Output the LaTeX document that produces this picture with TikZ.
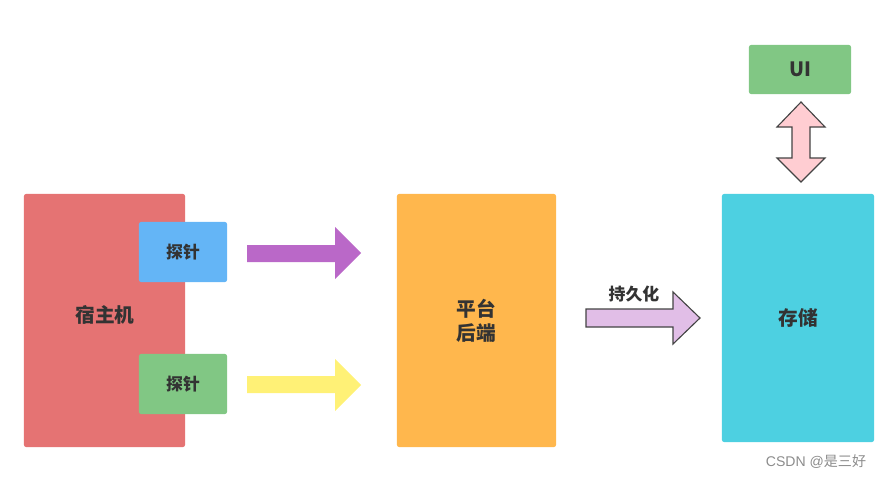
\documentclass[tikz,border=0pt]{standalone}
\usepackage{fontspec}
\newfontfamily\cjk{Noto Sans CJK SC}
\newfontfamily\markfont{Liberation Sans}
\usepackage{tikz}
\usetikzlibrary{positioning,calc}

\definecolor{hostred}{HTML}{E57373}
\definecolor{probeblue}{HTML}{64B5F6}
\definecolor{probegreen}{HTML}{81C784}
\definecolor{flowpurple}{HTML}{BA68C8}
\definecolor{flowyellow}{HTML}{FFF176}
\definecolor{backorange}{HTML}{FFB74D}
\definecolor{storecyan}{HTML}{4DD0E1}
\definecolor{persistlilac}{HTML}{E1BEE7}
\definecolor{uipink}{HTML}{FFCDD2}
\definecolor{txtgray}{HTML}{333333}
\definecolor{edgegray}{HTML}{444444}
\definecolor{markgray}{HTML}{8C8C8C}

\tikzset{
  box/.style={rounded corners=1.5pt, inner sep=0pt, text=txtgray,
    font=\cjk\bfseries\fontsize{14pt}{17pt}\selectfont, align=center},
  smallbox/.style={box, font=\cjk\bfseries\fontsize{12pt}{14pt}\selectfont},
  outlined/.style={draw=edgegray, line width=0.8pt, line join=miter}
}

\begin{document}
\begin{tikzpicture}[x=0.025cm,y=-0.025cm]
\useasboundingbox (0,0) rectangle (881,479);

%boxes
\node[box, fill=hostred, minimum width=4.025cm, minimum height=6.325cm] (host) at (104.5,320.5) {};
\node[box] (hostlabel) at (105,315) {宿主机};
\node[smallbox, fill=probeblue, minimum width=2.2cm, minimum height=1.5cm] (probeA) at (183,252) {探针};
\node[smallbox, fill=probegreen, minimum width=2.2cm, minimum height=1.5cm] (probeB) at (183,384) {探针};
\node[box, fill=backorange, minimum width=3.975cm, minimum height=6.325cm] (backend) at (476.5,320.5) {平台\\后端};
\node[box, fill=storecyan, minimum width=3.8cm, minimum height=6.2cm] (storage) at (798,318) {存储};
\node[box, fill=probegreen, minimum width=2.55cm, minimum height=1.225cm] (ui) at (800,69.5) {UI};

%flow arrows
\fill[flowpurple] (247,245)--(335,245)--(335,227)--(361,253)--(335,279)--(335,262)--(247,262)--cycle;
\fill[flowyellow] (247,376)--(335,376)--(335,359)--(361,385)--(335,411)--(335,393)--(247,393)--cycle;

%persist arrow
\filldraw[outlined, fill=persistlilac] (586,309)--(673,309)--(673,292)--(700,318)--(673,344)--(673,327)--(586,327)--cycle;
\node[smallbox] (persist) at (634,294.5) {持久化};

%ui arrow
\filldraw[outlined, fill=uipink] (801,102)--(825,127)--(810,127)--(810,158)--(825,158)--(801,182)--(777,158)--(792,158)--(792,127)--(777,127)--cycle;

%watermark
\node[text=markgray, font=\fontsize{10pt}{12pt}\selectfont] (mark) at (816,462) {\markfont CSDN @\cjk 是三好};
\end{tikzpicture}
\end{document}
